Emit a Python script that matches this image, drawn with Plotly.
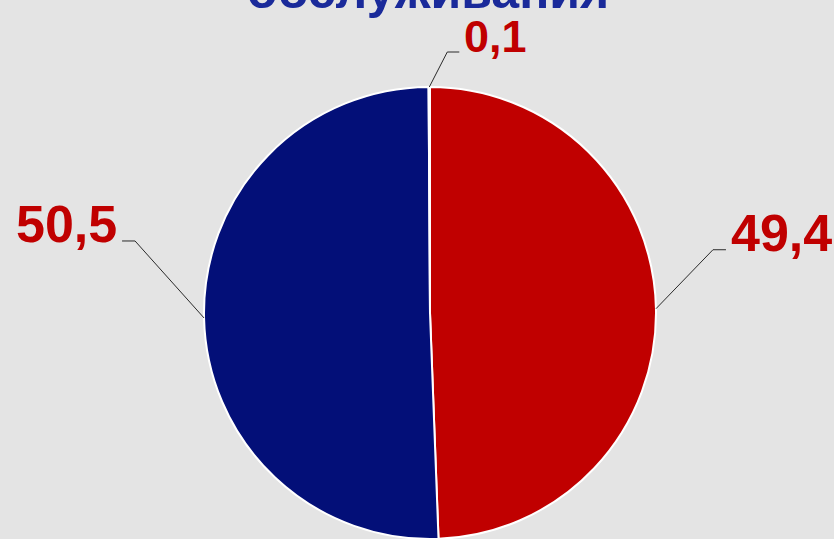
import math
import plotly.graph_objects as go

# ---- data ----
labels = ["Категория 1", "Категория 2", "Категория 3"]
values = [49.4, 50.5, 0.1]
value_text = ["49,4", "50,5", "0,1"]
slice_colors = ["#c00000", "#030f78", "#d9d9d9"]
title_text = "обслуживания"

W, H = 834, 539
CX, CY, R = 430, 313, 226  # pie geometry in pixels


def px(x):
    return x / W


def py(y):
    return min(1.0, max(0.0, (H - y) / H))


fig = go.Figure()
fig.add_trace(go.Pie(
    labels=labels,
    values=values,
    sort=False,
    direction="clockwise",
    rotation=0,
    marker=dict(colors=slice_colors, line=dict(color="white", width=2)),
    textinfo="none",
    hoverinfo="label+value",
    showlegend=False,
    domain=dict(x=[px(CX - R - 1), px(CX + R + 1)], y=[py(CY + R), py(CY - R)]),
))

# label layout: (elbow dx, elbow dy, horizontal dx, text side, font size)
label_style = [
    (57, -59, 13, "left", 52),
    (-69, -77, -13, "right", 52),
    (18, -35, 12, "left", 45),
]

total = sum(values)
cum = 0.0
shapes = []
annotations = []
for v, txt, st in zip(values, value_text, label_style):
    mid = (cum + v / 2) / total * 2 * math.pi
    cum += v
    ex = CX + R * math.sin(mid)
    ey = CY - R * math.cos(mid)
    dx, dy, hx, side, fs = st
    bx, by = ex + dx, ey + dy
    hx2 = bx + hx
    shapes.append(dict(
        type="path", xref="paper", yref="paper",
        path=f"M {px(ex)} {(H - ey) / H} L {px(bx)} {(H - by) / H} L {px(hx2)} {(H - by) / H}",
        line=dict(color="#2a2a2a", width=1),
    ))
    tx = hx2 + (3 if side == "left" else -3)
    annotations.append(dict(
        x=px(tx), y=(H - (by + 0.25 * fs + 1)) / H, xref="paper", yref="paper",
        xanchor=side, yanchor="bottom", showarrow=False,
        text=f"<b>{txt}</b>",
        font=dict(family="Arial, Liberation Sans, sans-serif", size=fs, color="#c00000"),
    ))

annotations.append(dict(
    x=px(428), y=(H - (8 + 0.25 * 50 + 1)) / H, xref="paper", yref="paper",
    xanchor="center", yanchor="bottom", showarrow=False,
    text=f"<b>{title_text}</b>",
    font=dict(family="Arial, Liberation Sans, sans-serif", size=50, color="#1a2a9a"),
))

fig.update_layout(
    width=W, height=H,
    margin=dict(l=0, r=0, t=0, b=0),
    paper_bgcolor="#e4e4e4",
    plot_bgcolor="#e4e4e4",
    shapes=shapes,
    annotations=annotations,
)

fig.write_html(
    "out.html",
    config={"displayModeBar": False},
    post_script="document.body.style.margin='0';document.body.style.background='#e4e4e4';document.body.style.overflow='hidden';",
)
